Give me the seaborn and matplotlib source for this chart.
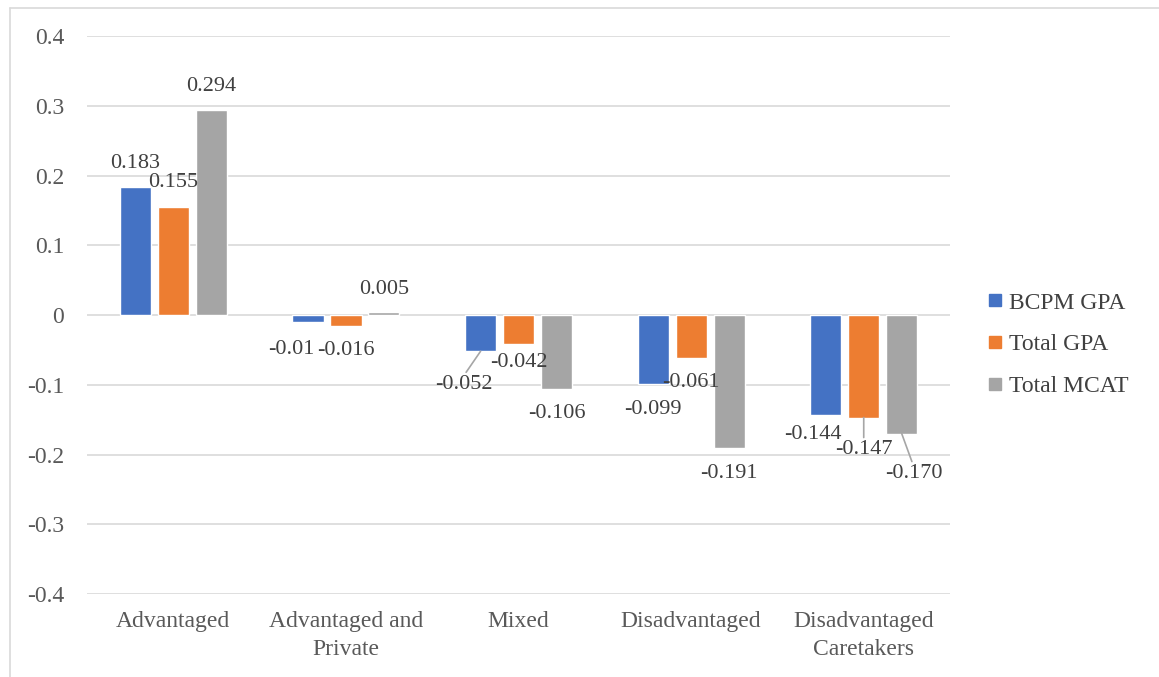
import matplotlib
matplotlib.use("Agg")
import matplotlib.pyplot as plt
import seaborn as sns
import pandas as pd
from matplotlib.lines import Line2D

# Data
categories = ["Advantaged", "Advantaged and\nPrivate", "Mixed", "Disadvantaged", "Disadvantaged\nCaretakers"]
series = ["BCPM GPA", "Total GPA", "Total MCAT"]
bcpm_gpa = [0.183, -0.01, -0.052, -0.099, -0.144]
total_gpa = [0.155, -0.016, -0.042, -0.061, -0.147]
total_mcat = [0.294, 0.005, -0.106, -0.191, -0.170]
label_text = [
    ["0.183", "-0.01", "-0.052", "-0.099", "-0.144"],
    ["0.155", "-0.016", "-0.042", "-0.061", "-0.147"],
    ["0.294", "0.005", "-0.106", "-0.191", "-0.170"],
]
y_ticks = [0.4, 0.3, 0.2, 0.1, 0, -0.1, -0.2, -0.3, -0.4]
y_tick_labels = ["0.4", "0.3", "0.2", "0.1", "0", "-0.1", "-0.2", "-0.3", "-0.4"]

colors = ["#4472C4", "#ED7D31", "#A5A5A5"]

df = pd.DataFrame({
    "category": categories * 3,
    "series": sum([[s] * len(categories) for s in series], []),
    "value": bcpm_gpa + total_gpa + total_mcat,
})

sns.set_theme(style="white")
plt.rcParams["font.family"] = ["Liberation Serif", "DejaVu Serif"]

fig = plt.figure(figsize=(11.59, 6.77), dpi=100)
ax = fig.add_axes([0.0751, 0.1226, 0.8197 - 0.0751, 0.9468 - 0.1226])

sns.barplot(data=df, x="category", y="value", hue="series", order=categories,
            hue_order=series, palette=colors, width=0.66, gap=0.18,
            saturation=1, ax=ax, legend=True)

ax.set_ylim(-0.4, 0.4)
ax.set_xlim(-0.5, 4.5)
ax.set_yticks(y_ticks)
ax.set_yticklabels(y_tick_labels)
ax.set_xticks(range(len(categories)))
ax.set_xticklabels(categories, linespacing=1.45)
ax.set_xlabel("")
ax.set_ylabel("")
ax.yaxis.grid(True, color="#D9D9D9", linewidth=1.2)
ax.set_axisbelow(True)
for sp in ax.spines.values():
    sp.set_visible(False)
ax.tick_params(axis="both", length=0, labelsize=17, colors="#595959")
ax.tick_params(axis="y", pad=16.5)
ax.tick_params(axis="x", pad=12)

# Data labels: (dx, dy) in pixels from bar end, and whether to draw a leader line
offsets = [
    [(0, 24, False), (-17, -28, False), (-17, -33, True), (0, -25, False), (-13, -19, False)],
    [(0, 24, False), (0, -24, False), (0, -18, False), (0, -25, False), (0, -32, True)],
    [(0, 23, False), (0, 22, False), (0, -25, False), (0, -25, False), (12, -40, True)],
]
values = [bcpm_gpa, total_gpa, total_mcat]
for si, cont in enumerate(ax.containers):
    for ci, bar in enumerate(cont.patches):
        x = bar.get_x() + bar.get_width() / 2
        y = values[si][ci]
        dx, dy, leader = offsets[si][ci]
        ax.annotate(label_text[si][ci], xy=(x, y), xytext=(dx, dy),
                    textcoords="offset pixels", ha="center", va="center",
                    fontsize=16, color="#404040", zorder=5)
        if leader:
            ax.annotate("", xy=(x, y), xytext=(dx * 0.85, dy + 12 if dy < 0 else dy - 12),
                        textcoords="offset pixels",
                        arrowprops=dict(arrowstyle="-", color="#A6A6A6", lw=1.2,
                                        shrinkA=0, shrinkB=0), zorder=4)

# Legend
handles = [Line2D([0], [0], marker="s", linestyle="none", markersize=8,
                  markerfacecolor=c, markeredgecolor=c) for c in colors]
ax.legend(handles, series, loc="center left", bbox_to_anchor=(0.8445, 0.491),
          bbox_transform=fig.transFigure, frameon=False, fontsize=17,
          labelcolor="#404040", handlelength=0.6, handletextpad=0.3,
          labelspacing=0.85, borderaxespad=0)

# Chart area border (left and top edges)
fig.add_artist(Line2D([10 / 1159, 10 / 1159], [0, 1 - 8 / 677], transform=fig.transFigure,
                      color="#D9D9D9", lw=1.2))
fig.add_artist(Line2D([10 / 1159, 1], [1 - 8 / 677, 1 - 8 / 677], transform=fig.transFigure,
                      color="#D9D9D9", lw=1.2))

fig.savefig("out.png", dpi=100)
